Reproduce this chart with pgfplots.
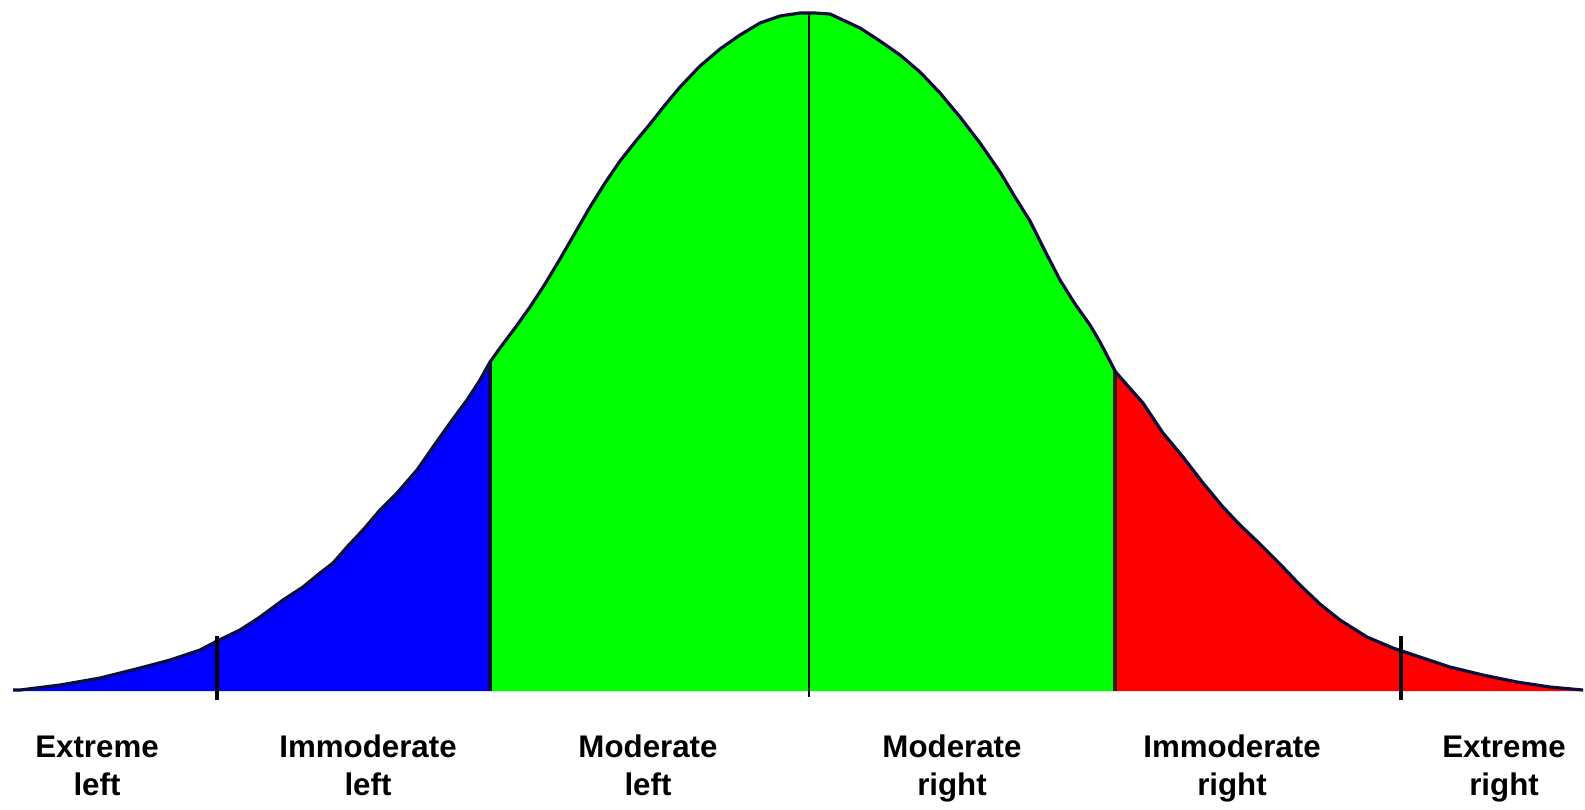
\documentclass[border=0pt]{standalone}
\usepackage{pgfplots}
\pgfplotsset{compat=1.18}
\usepgfplotslibrary{fillbetween}
\usepackage{fontspec}
\newfontfamily\lab{Liberation Sans}
\definecolor{outl}{RGB}{10,15,60}
\definecolor{outr}{RGB}{45,30,0}
\definecolor{cblue}{RGB}{0,0,255}
\definecolor{cgreen}{RGB}{0,255,0}
\definecolor{cred}{RGB}{255,0,0}
\pgfplotstableread{
x y
13 119
20 119
60 124
100 131
140 141
170 149
200 159
217 168
240 179
260 192
283 209
303 222
320 236
333 246
347 262
363 279
380 299
397 316
417 339
433 362
450 386
467 409
480 429
490 447
500 461
515 481
530 502
545 525
560 550
575 576
590 602
605 626
620 648
635 667
650 685
665 704
680 722
700 743
720 760
740 774
760 786
780 793
800 796
815 796
830 795
845 788
860 781
880 768
900 754
920 737
940 716
960 692
980 666
1000 637
1015 612
1030 588
1045 558
1060 529
1075 505
1090 484
1100 467
1113 442
1115 438
1120 432
1143 406
1163 376
1183 352
1203 326
1223 302
1240 284
1260 265
1280 245
1300 224
1320 205
1340 189
1367 172
1393 161
1420 152
1450 142
1483 134
1517 127
1550 122
1583 119
}\curvetab
\begin{document}
\begin{tikzpicture}
\begin{axis}[
  width=158.5mm, height=80.9mm, scale only axis,
  hide axis, clip=false,
  xmin=0, xmax=1585, ymin=0, ymax=809,
]
\path (axis cs:0,0) rectangle (axis cs:1585,809);
\addplot[draw=none, name path=curve] table[x=x,y=y] {\curvetab};
\addplot[draw=none, name path=base] coordinates {(13,118) (1583,118)};
\addplot[fill=cblue, draw=none] fill between[of=curve and base, soft clip={domain=13:490}];
\addplot[fill=cgreen, draw=none] fill between[of=curve and base, soft clip={domain=490:1115}];
\addplot[fill=cred, draw=none] fill between[of=curve and base, soft clip={domain=1115:1583}];
% boundaries
\addplot[outl, line width=1.1pt] coordinates {(490,118) (490,447)};
\addplot[outr, line width=1.1pt] coordinates {(1115,118) (1115,438)};
% outline
\addplot[outl, line width=0.9pt, line join=round] table[x=x,y=y] {\curvetab};
% centre line and ticks
\addplot[black, line width=0.6pt] coordinates {(809,112) (809,796)};
\addplot[black, line width=0.9pt] coordinates {(217,109) (217,173)};
\addplot[black, line width=0.9pt] coordinates {(1401,109) (1401,173)};
% labels
\tikzset{lbl/.style={anchor=base, inner sep=0pt, font=\lab\bfseries\fontsize{8.9}{10}\selectfont}}
\node[lbl] at (axis cs:97,52) {Extreme};
\node[lbl] at (axis cs:97,14) {left};
\node[lbl] at (axis cs:368,52) {Immoderate};
\node[lbl] at (axis cs:368,14) {left};
\node[lbl] at (axis cs:648,52) {Moderate};
\node[lbl] at (axis cs:648,14) {left};
\node[lbl] at (axis cs:952,52) {Moderate};
\node[lbl] at (axis cs:952,14) {right};
\node[lbl] at (axis cs:1232,52) {Immoderate};
\node[lbl] at (axis cs:1232,14) {right};
\node[lbl] at (axis cs:1504,52) {Extreme};
\node[lbl] at (axis cs:1504,14) {right};
\end{axis}
\end{tikzpicture}
\end{document}
